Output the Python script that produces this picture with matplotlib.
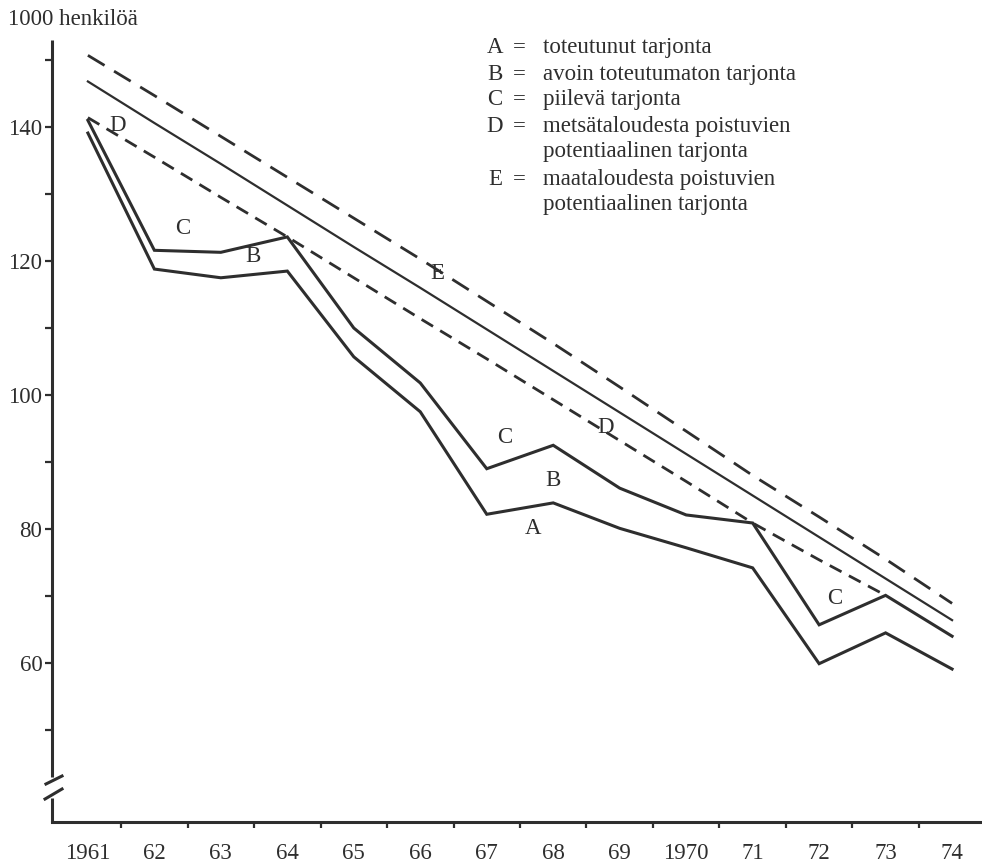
import matplotlib.pyplot as plt

plt.rcParams['font.family'] = ['Liberation Serif', 'DejaVu Serif']

year_labels = ['1961', '62', '63', '64', '65', '66', '67', '68', '69', '1970',
               '71', '72', '73', '74']

# A = toteutunut tarjonta
a_line = [139.1, 118.8, 117.5, 118.5, 105.7, 97.5, 82.2, 83.9, 80.1, 77.2,
          74.2, 59.9, 64.5, 59.1]
# A+B+C (upper thick line)
c_line = [141.0, 121.6, 121.3, 123.6, 110.0, 101.8, 89.0, 92.5, 86.1, 82.1,
          80.9, 65.7, 70.1, 64.0]
# D, 1961-73
d_line = [141.4, 135.5, 129.5, 123.6, 117.5, 111.4, 105.4, 99.3, 93.2, 87.1,
          80.9, 75.4, 70.1]
# thin solid line between D and E
mid_line = [146.8, 140.6, 134.5, 128.3, 122.1, 116.0, 109.8, 103.6, 97.4,
            91.2, 85.0, 78.8, 72.6, 66.4]
# E
e_line = [150.7, 144.7, 138.6, 132.5, 126.4, 120.3, 114.0, 107.7, 101.2,
          94.6, 88.0, 81.8, 75.5, 68.9]

legend_rows = [('A', 'toteutunut tarjonta'),
               ('B', 'avoin toteutumaton tarjonta'),
               ('C', 'piilevä tarjonta'),
               ('D', 'metsätaloudesta poistuvien'),
               ('', 'potentiaalinen tarjonta'),
               ('E', 'maataloudesta poistuvien'),
               ('', 'potentiaalinen tarjonta')]

ink = '#2e2e2e'
fs = 16.5
W, H = 982, 863

fig = plt.figure(figsize=(W / 100, H / 100), dpi=100)
ax = fig.add_axes([52 / W, 1 - 822 / H, (980 - 52) / W, (822 - 40) / H])

x = list(range(len(year_labels)))
ax.plot(x, a_line, color=ink, lw=2.2, solid_joinstyle='miter')
ax.plot(x, c_line, color=ink, lw=2.2, solid_joinstyle='miter')
ax.plot(x[:len(d_line)], d_line, color=ink, lw=2.0, dashes=(4.8, 3.0))
ax.plot(x, mid_line, color=ink, lw=1.6)
ax.plot(x, e_line, color=ink, lw=2.0, dashes=(7.0, 4.0))

ax.set_xlim(-0.54, 13.42)
ax.set_ylim(36.27, 152.99)

# letters in the plot
for lx, ly, s in [(0.45, 140.3, 'D'), (1.43, 124.8, 'C'), (2.48, 120.7, 'B'),
                  (5.25, 118.2, 'E'), (6.27, 93.7, 'C'), (7.78, 95.2, 'D'),
                  (7.0, 87.3, 'B'), (6.7, 80.1, 'A'), (11.24, 69.7, 'C')]:
    ax.text(lx, ly, s, ha='center', va='center', fontsize=fs, color=ink)

# axes
for side in ['top', 'right', 'left']:
    ax.spines[side].set_visible(False)
ax.spines['bottom'].set_linewidth(2.2)
ax.spines['bottom'].set_color(ink)

ax.plot([0, 0], [0.0575, 1], transform=ax.transAxes, color=ink, lw=2.2,
        clip_on=False, solid_capstyle='butt')
ax.plot([0, 0], [0, 0.0307], transform=ax.transAxes, color=ink, lw=2.2,
        clip_on=False, solid_capstyle='butt')
ax.plot([-0.0065, 0.0108], [0.0486, 0.0588], transform=ax.transAxes,
        color=ink, lw=2.2, clip_on=False)
ax.plot([-0.0075, 0.0108], [0.0294, 0.0422], transform=ax.transAxes,
        color=ink, lw=2.2, clip_on=False)

ax.set_xticks(x)
ax.set_xticklabels(year_labels)
ax.set_xticks([i + 0.5 for i in range(13)], minor=True)
ax.tick_params(axis='x', which='major', length=0, pad=15, labelsize=fs,
               labelcolor=ink)
ax.tick_params(axis='x', which='minor', length=4, width=1.6, color=ink)

yt = list(range(50, 151, 10))
ax.set_yticks(yt)
ax.set_yticklabels([str(v) if v in (60, 80, 100, 120, 140) else '' for v in yt])
ax.tick_params(axis='y', length=5, width=1.6, pad=2, labelsize=fs,
               color=ink, labelcolor=ink)

fig.text(8 / W, 1 - 25 / H, '1000 henkilöä', fontsize=fs, color=ink,
         ha='left', va='baseline')

baselines = [53, 80, 105, 132, 157, 185, 210]
for (letter, txt), b in zip(legend_rows, baselines):
    yy = 1 - b / H
    if letter:
        fig.text(495 / W, yy, letter, fontsize=fs, color=ink, ha='center',
                 va='baseline')
        fig.text(519 / W, yy, '=', fontsize=fs, color=ink, ha='center',
                 va='baseline')
    fig.text(543 / W, yy, txt, fontsize=fs, color=ink, ha='left',
             va='baseline')

fig.savefig('out.png', dpi=100, facecolor='white')
